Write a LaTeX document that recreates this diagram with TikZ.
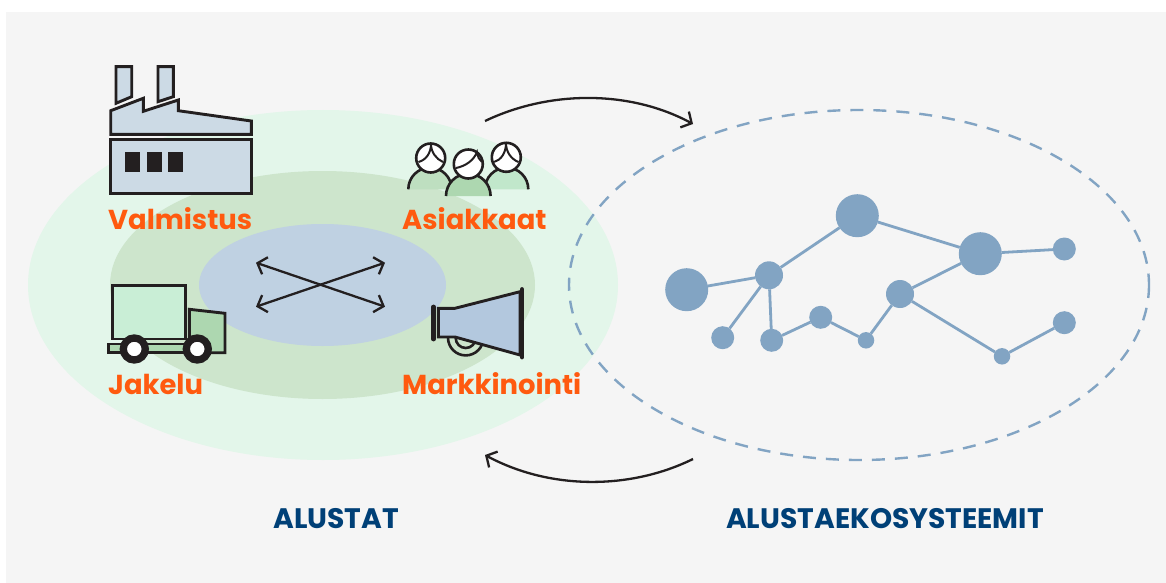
\documentclass[tikz,border=0pt]{standalone}
\usepackage{fontspec}
\setmainfont{Poppins}
\usetikzlibrary{arrows.meta}
\definecolor{bgc}{HTML}{F5F5F5}
\definecolor{outerc}{HTML}{E3F6EA}
\definecolor{midc}{HTML}{CDE5CC}
\definecolor{innerc}{HTML}{BFD1E2}
\definecolor{netc}{HTML}{82A4C3}
\definecolor{inkc}{HTML}{231F20}
\definecolor{factc}{HTML}{CCDAE5}
\definecolor{mintc}{HTML}{C9EED6}
\definecolor{greenc}{HTML}{ADD7B0}
\definecolor{hornc}{HTML}{B3C8DE}
\definecolor{orangec}{HTML}{FF5A0F}
\definecolor{bluec}{HTML}{004077}
\tikzset{
  ink/.style={draw=inkc,line width=2.9pt,line join=miter},
  thin ink/.style={draw=inkc,line width=2.6pt},
  net/.style={circle,fill=netc,inner sep=0pt,outer sep=0pt},
  big/.style={net,minimum size=43pt},
  mid/.style={net,minimum size=28pt},
  small/.style={net,minimum size=23pt},
  tiny/.style={net,minimum size=16.5pt},
  link/.style={draw=netc,line width=2.8pt},
  orangelabel/.style={text=orangec,font=\fontsize{27.4}{30}\selectfont\bfseries,inner sep=0pt,anchor=base west},
  bluelabel/.style={text=bluec,font=\fontsize{28.2}{30}\selectfont\bfseries,inner sep=0pt,anchor=base},
  cross/.style={draw=inkc,line width=2.3pt,{Straight Barb[length=8pt,width=18pt]}-{Straight Barb[length=8pt,width=18pt]}},
  cycle arrow/.style={draw=inkc,line width=2.3pt,-{Straight Barb[length=8pt,width=18pt]}},
}
\begin{document}
\begin{tikzpicture}[x=1pt,y=-1pt]
\useasboundingbox (0,0) rectangle (1166,583);
\fill[white] (0,0) rectangle (1166,583);
\fill[bgc] (6,12) rectangle (1166,583);
% ellipses
\fill[outerc] (323,285) ellipse [x radius=295,y radius=175];
\fill[midc] (322.5,285) ellipse [x radius=212.5,y radius=114];
\fill[innerc] (322.5,285) ellipse [x radius=123.5,y radius=61];
\draw[netc,line width=2.4pt,dash pattern=on 13pt off 10pt] (859,285) ellipse [x radius=290,y radius=175];
% factory
\path[ink,fill=factc] (116,66.7) -- (131.7,66.7) -- (131.7,96.7) -- (116,103.3) -- cycle;
\path[ink,fill=factc] (158,66.7) -- (173.3,66.7) -- (173.3,96.7) -- (158,101.7) -- cycle;
\path[ink,fill=factc] (110.7,110.7) -- (143.3,98.3) -- (143.3,111.3) -- (178.3,100) -- (178.3,110.7) -- (251.3,121) -- (251.3,134.3) -- (110.7,134.3) -- cycle;
\path[ink,fill=factc] (110.7,139.3) rectangle (251.3,193.3);
\fill[inkc] (125,152) rectangle (140,172);
\fill[inkc] (147,152) rectangle (162,172);
\fill[inkc] (168,152) rectangle (183,172);
% people
\fill[greenc!45!midc] (408.3,189.3) arc[start angle=180,end angle=360,radius=21.7] -- cycle;
\fill[mintc!70!greenc] (484.9,189.3) arc[start angle=180,end angle=360,radius=21.7] -- cycle;
\draw[thin ink] (408.3,189.3) arc[start angle=180,end angle=360,radius=21.7];
\draw[thin ink] (484.9,189.3) arc[start angle=180,end angle=360,radius=21.7];
\path[thin ink,fill=greenc] (446,196) arc[start angle=180,end angle=360,radius=22.3];
\path[thin ink,fill=white] (430.7,158) circle[radius=14.5];
\path[thin ink,fill=white] (468.3,164) circle[radius=14.5];
\path[thin ink,fill=white] (506.3,157.3) circle[radius=14.5];
\draw[thin ink,line width=2pt] (418.5,162) .. controls (426,160) and (431,153) .. (431,144) .. controls (431,152) and (436,159) .. (443,162);
\draw[thin ink,line width=2pt] (456,168) .. controls (466,166) and (474,160) .. (477,152) .. controls (478,157) and (479,160) .. (482,162);
\draw[thin ink,line width=2pt] (494,162) .. controls (501,160) and (506,153) .. (506,143) .. controls (506,152) and (511,159) .. (518.5,162);
% truck
\path[ink,fill=mintc] (112.3,285.3) rectangle (185.7,339);
\path[ink,fill=greenc] (108.3,344) rectangle (225,352.7);
\path[ink,fill=greenc] (189.3,309.3) -- (225,313.3) -- (225,352.7) -- (189.3,352.7) -- cycle;
\path[draw=inkc,line width=7.3pt,fill=white] (134.3,349) circle[radius=11];
\path[draw=inkc,line width=7.3pt,fill=white] (197.3,349) circle[radius=11];
% megaphone
\draw[thin ink] (465.7,337.7) circle[radius=17.7];
\draw[thin ink] (465.7,338) circle[radius=10];
\path[ink,fill=hornc] (438.3,308.3) -- (455,308.3) -- (520,291.7) -- (520,355) -- (455,337) -- (438.3,337) -- cycle;
\draw[draw=inkc,line width=4.8pt,line cap=round] (433.7,307) -- (433.7,339);
\draw[draw=inkc,line width=4.8pt,line cap=round] (522,289.5) -- (522,357);
% crossing arrows
\coordinate (ca) at (256,262.7);
\coordinate (cb) at (385,306.7);
\coordinate (cc) at (385,262.7);
\coordinate (cd) at (256,306.7);
\draw[cross] (ca) -- (cb);
\draw[cross] (cd) -- (cc);
% network
\node[big]   (n1)  at (686.7,289.7) {};
\node[mid]   (n2)  at (769,275.3) {};
\node[big]   (n3)  at (857.3,215.7) {};
\node[big]   (n4)  at (980.3,253.7) {};
\node[small] (n5)  at (1064.3,249) {};
\node[mid]   (n6)  at (900,294) {};
\node[small] (n7)  at (1064.3,322.7) {};
\node[tiny]  (n8)  at (1002,356.3) {};
\node[tiny]  (n9)  at (866,340.3) {};
\node[small] (n10) at (820.7,317.3) {};
\node[small] (n11) at (771.7,340.3) {};
\node[small] (n12) at (722.7,337.7) {};
\draw[link] (n1)--(n2) (n2)--(n3) (n3)--(n4) (n4)--(n5) (n4)--(n6) (n6)--(n8) (n8)--(n7) (n6)--(n9) (n9)--(n10) (n10)--(n11) (n11)--(n2) (n2)--(n12);
% cycle arrows
\coordinate (t1) at (485,121);
\coordinate (t2) at (693,124);
\coordinate (b1) at (693,459);
\coordinate (b2) at (485,455);
\draw[cycle arrow] (t1) .. controls (550,90) and (630,90) .. (t2);
\draw[cycle arrow] (b1) .. controls (630,490) and (550,490) .. (b2);
% labels
\node[orangelabel] (l1) at (108,229) {Valmistus};
\node[orangelabel] (l2) at (402,229) {Asiakkaat};
\node[orangelabel] (l3) at (108,394.5) {Jakelu};
\node[orangelabel] (l4) at (402,394.5) {Markkinointi};
\node[bluelabel] (l5) at (336,528) {ALUSTAT};
\node[bluelabel] (l6) at (885,528) {ALUSTAEKOSYSTEEMIT};
\end{tikzpicture}
\end{document}
